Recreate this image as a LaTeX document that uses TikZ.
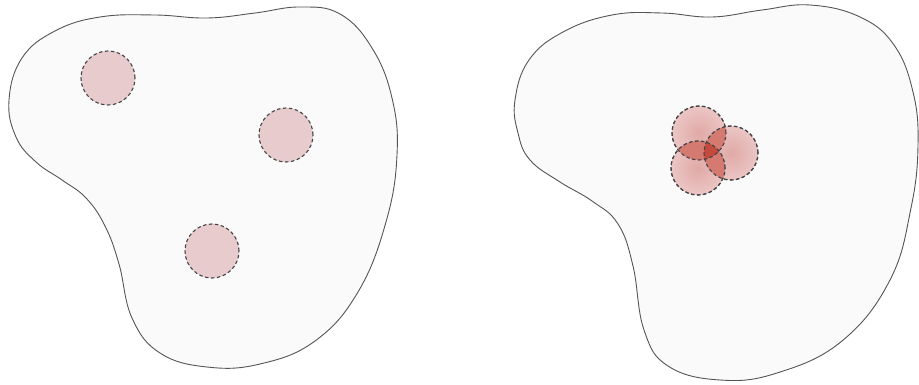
\documentclass[tikz,border=0pt]{standalone}
\usepackage{tikz}
\usepackage{xcolor}
\usetikzlibrary{positioning, shapes.geometric, backgrounds}
\definecolor{cBlob}{HTML}{FAFAFA}
\definecolor{cBlobB}{HTML}{555555}
\definecolor{cSpot}{HTML}{E8CBCC}
\definecolor{cHot}{HTML}{EBC6C5}
\definecolor{cHotA}{HTML}{E0A9A6}
\definecolor{cHotB}{HTML}{D47A71}
\definecolor{cHotC}{HTML}{C44A3E}
\definecolor{cDash}{HTML}{444444}
\tikzset{
  blob/.style      ={draw=cBlobB, fill=cBlob, line width=0.9pt},
  spot/.style      ={circle, draw=cDash, dash pattern=on 3.5pt off 2.5pt,
                     line width=1.1pt, fill=cSpot,
                     minimum size=54pt, inner sep=0pt},
  hotspot/.style   ={circle, draw=cDash, dash pattern=on 3.5pt off 2.5pt,
                     line width=1.1pt, inner color=cHotA, outer color=cHot,
                     minimum size=54pt, inner sep=0pt},
}

\begin{document}
\begin{tikzpicture}[x=1pt, y=-1pt]
  \useasboundingbox (0,0) rectangle (919,385);

  % ============================================================
  % LEFT REGION (spread-out spots)
  % ============================================================
  \draw[blob] plot[smooth cycle, tension=0.7] coordinates {
    (9,100) (22,58) (55,31) (100,17) (155,15) (207,18) (255,13)
    (300,7) (340,14) (372,48) (392,98) (397,155) (386,222)
    (358,292) (315,341) (260,364) (207,367) (160,353) (132,318)
    (119,264) (105,226) (86,198) (62,180) (36,162) (16,137)};

  \node[spot] (s1) at (108,78)  {};
  \node[spot] (s2) at (286,135) {};
  \node[spot] (s3) at (212,251) {};

  % ============================================================
  % RIGHT REGION (overlapping spots)
  % ============================================================
  \draw[blob] plot[smooth cycle, tension=0.7] coordinates {
    (515,100) (529,60) (563,32) (612,15) (662,13) (712,17)
    (762,10) (810,5) (860,17) (894,45) (913,92) (918,145)
    (911,208) (890,280) (842,341) (777,373) (720,380) (668,366)
    (644,330) (633,266) (618,224) (592,201) (560,182) (530,160)
    (518,133)};

  \node[hotspot] (h1) at (699,133) {};
  \node[hotspot] (h2) at (731,153) {};
  \node[hotspot] (h3) at (698,168) {};

  % overlaps get darker
  \begin{scope}
    \clip (h1.center) circle[radius=27pt];
    \fill[cHotB] (h2.center) circle[radius=27pt];
    \fill[cHotB] (h3.center) circle[radius=27pt];
  \end{scope}
  \begin{scope}
    \clip (h2.center) circle[radius=27pt];
    \fill[cHotB] (h3.center) circle[radius=27pt];
  \end{scope}
  \begin{scope}
    \clip (h1.center) circle[radius=27pt];
    \clip (h2.center) circle[radius=27pt];
    \fill[cHotC] (h3.center) circle[radius=27pt];
  \end{scope}

  % dashed rims on top
  \foreach \h in {h1,h2,h3}
    \draw[cDash, dash pattern=on 3.5pt off 2.5pt, line width=1.1pt]
      (\h.center) circle[radius=27pt];

\end{tikzpicture}
\end{document}
